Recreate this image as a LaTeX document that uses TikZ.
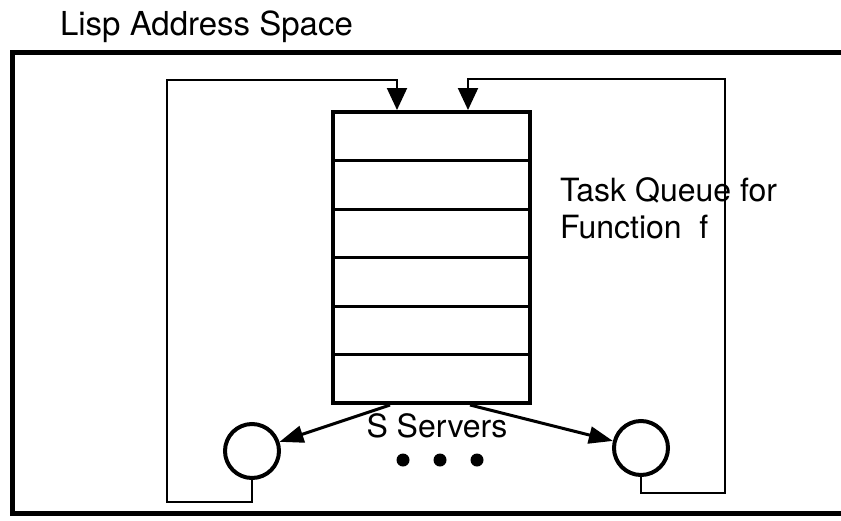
\documentclass[tikz,border=0pt]{standalone}
\usepackage{fontspec}
\setmainfont{TeX Gyre Heros}
\usetikzlibrary{arrows.meta}

\newcommand\diagfont{\fontsize{16}{18.5}\selectfont}

\begin{document}
\begin{tikzpicture}[x=0.5pt,y=-0.5pt,
        queuebox/.style={draw, line width=2pt, minimum width=98.5pt, minimum height=145.5pt, inner sep=0pt},
        server/.style={draw, circle, line width=2pt, minimum size=27pt, inner sep=0pt},
        dot/.style={fill, circle, minimum size=6.5pt, inner sep=0pt},
        backline/.style={line width=1pt, -{Triangle[length=11pt,width=10pt]}},
        feed/.style={line width=1.5pt, -{Triangle[length=12pt,width=8.5pt]}},
        every node/.style={font=\diagfont}]
        \useasboundingbox (0,0) rectangle (841,520);
        % address space frame
        \draw [line width=2.5pt] (850,52) -- (12,52) -- (12,513) -- (850,513);
        \node (title) [anchor=base west, font=\fontsize{16.5}{19}\selectfont] at (53,35) {Lisp Address Space};

        % task queue
        \node (queue) [queuebox] at (431.5,257.5) {};
        \foreach \i in {1,...,5}
            \draw [line width=1.5pt] (333,{112+48.5*\i}) -- (530,{112+48.5*\i});
        \node (qlabel) [anchor=base west, align=left] at (553,238) {Task Queue for\\Function~ f};

        \coordinate (in1) at ([xshift=-17.25pt]queue.north);
        \coordinate (in2) at ([xshift=18.25pt]queue.north);
        \coordinate (out1) at ([xshift=-20.75pt]queue.south);
        \coordinate (out2) at ([xshift=19.25pt]queue.south);

        % servers
        \node (srv1) [server] at (252,451) {};
        \node (srv2) [server] at (641,448) {};
        \node (servers) [anchor=base] at (437,437) {S Servers};
        \node (d1) [dot] at (403,460) {};
        \node (d2) [dot] at (440,460) {};
        \node (d3) [dot] at (477,460) {};

        \draw [feed] (out1) -- (srv1);
        \draw [feed] (out2) -- (srv2);

        % results fed back into the queue
        \draw [backline] (srv1.south) |- (167,502) |- (397,80) -- (in1);
        \draw [backline] (srv2.south) |- (725,493) |- (468,79) -- (in2);
\end{tikzpicture}
\end{document}
